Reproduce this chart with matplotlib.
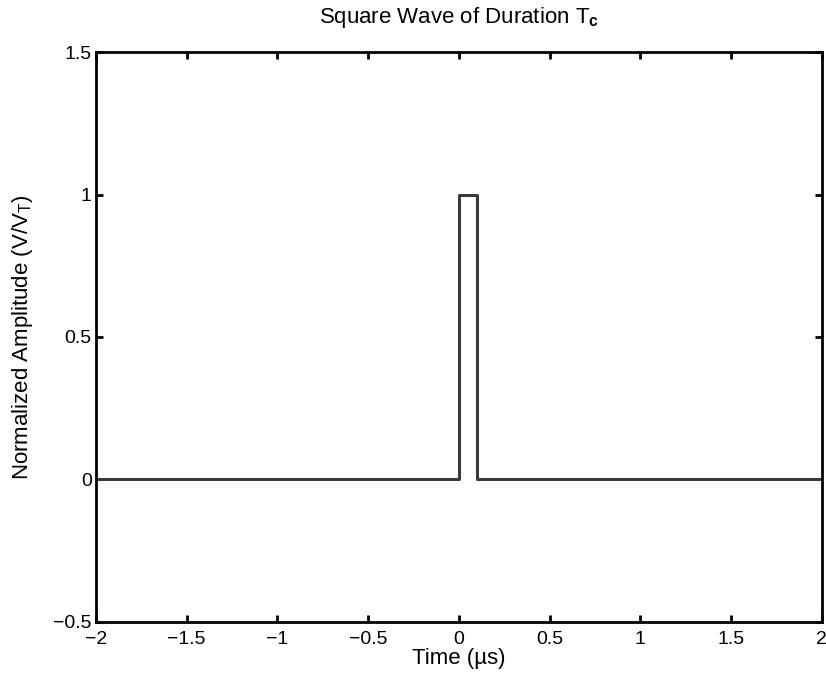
import matplotlib
matplotlib.use("Agg")
import matplotlib.pyplot as plt

# pulse of duration Tc = 0.1 us
time_us = [-2.0, 0.0, 0.0, 0.1, 0.1, 2.0]
amplitude = [0, 0, 1, 1, 0, 0]
xticks = [-2, -1.5, -1, -0.5, 0, 0.5, 1, 1.5, 2]
yticks = [-0.5, 0, 0.5, 1, 1.5]

plt.rcParams["font.family"] = ["Liberation Sans", "DejaVu Sans"]
plt.rcParams["mathtext.fontset"] = "custom"
plt.rcParams["mathtext.rm"] = "Liberation Sans"
plt.rcParams["mathtext.bf"] = "Liberation Sans:bold"

fig = plt.figure(figsize=(8.26, 6.78), dpi=100)
ax = fig.add_axes([0.116, 0.083, 0.879, 0.840])
ax.plot(time_us, amplitude, color="#3a3a3a", lw=2.2)

ax.set_xlim(-2, 2)
ax.set_ylim(-0.5, 1.5)
ax.set_xticks(xticks)
ax.set_yticks(yticks)
ax.set_xticklabels(["\u22122", "\u22121.5", "\u22121", "\u22120.5", "0", "0.5", "1", "1.5", "2"])
ax.set_yticklabels(["\u22120.5", "0", "0.5", "1", "1.5"])
ax.tick_params(direction="in", length=5, width=2, labelsize=14, top=True, right=True)
ax.tick_params(axis="x", pad=7)
ax.tick_params(axis="y", pad=3)
for s in ax.spines.values():
    s.set_linewidth(2)

ax.set_title(r"Square Wave of Duration T$_\mathbf{c}$", fontsize=16, pad=21)
ax.set_xlabel("Time (\u00b5s)", fontsize=16, labelpad=0)
ax.set_ylabel(r"Normalized Amplitude (V/V$_\mathrm{T}$)", fontsize=16, labelpad=13)

fig.savefig("out.png", dpi=100)
